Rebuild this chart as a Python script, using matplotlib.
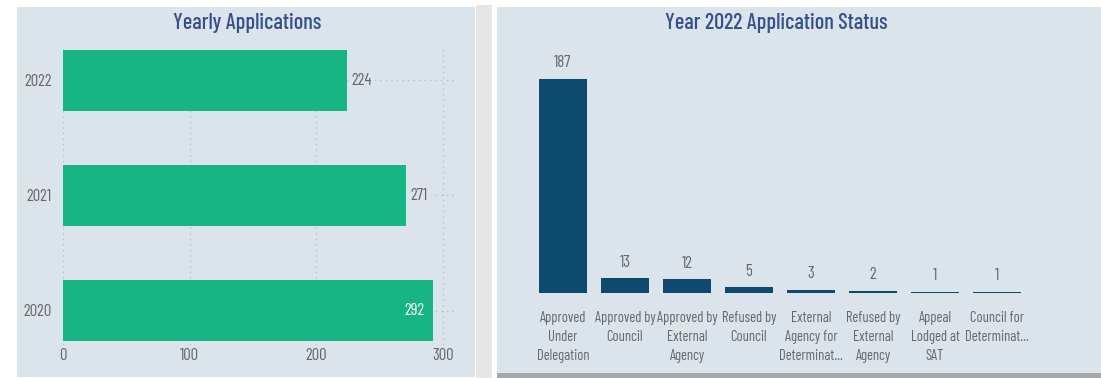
import matplotlib
matplotlib.use("Agg")
import matplotlib.pyplot as plt
from matplotlib.patches import Rectangle

years = ["2020", "2021", "2022"]
yearly_counts = [292, 271, 224]

status_labels = [
    "Approved\nUnder\nDelegation",
    "Approved by\nCouncil",
    "Approved by\nExternal\nAgency",
    "Refused by\nCouncil",
    "External\nAgency for\nDeterminat...",
    "Refused by\nExternal\nAgency",
    "Appeal\nLodged at\nSAT",
    "Council for\nDeterminat...",
]
status_counts = [187, 13, 12, 5, 3, 2, 1, 1]

W, H = 1101, 378
plt.rcParams["font.family"] = ["Barlow Condensed", "Liberation Sans Narrow",
                               "Liberation Sans", "DejaVu Sans"]

panel_bg = "#dbe4eb"
text_col = "#666666"
title_col = "#34508a"
green = "#17b584"
navy = "#0e4a6e"
grid_col = "#b9bfc2"

fig = plt.figure(figsize=(W / 100, H / 100), dpi=100)
fig.patch.set_facecolor("white")


def px_rect(x0, y0, x1, y1):
    # pixel box (top-left origin) -> figure fraction [l, b, w, h]
    return [x0 / W, 1 - y1 / H, (x1 - x0) / W, (y1 - y0) / H]


def panel(x0, y0, x1, y1, color):
    l, b, w, h = px_rect(x0, y0, x1, y1)
    fig.patches.append(Rectangle((l, b), w, h, transform=fig.transFigure,
                                 facecolor=color, edgecolor="none", zorder=-5))


# panels and shadow
panel(476, 5, 492, 378, "#e6e6e6")
panel(17, 7, 475, 377, panel_bg)
panel(497, 7, 1101, 373, panel_bg)
panel(497, 373, 1101, 378, "#a8a8a8")

# ---- left: yearly applications ----
ax1 = fig.add_axes(px_rect(63, 46, 457, 345))
ax1.set_facecolor("none")
ypos = list(range(len(years)))
ax1.barh(ypos, yearly_counts, height=0.53, color=green, zorder=2)
ax1.set_xlim(0, 311)
ax1.set_ylim(-0.3, 2.3)
ax1.set_yticks(ypos)
ax1.set_yticklabels(years)
ax1.set_xticks([0, 100, 200, 300])
ax1.tick_params(length=0, colors=text_col, labelsize=12)
ax1.tick_params(axis="y", pad=8)
ax1.tick_params(axis="x", pad=2)
for s in ax1.spines.values():
    s.set_visible(False)
for xv in [0, 100, 200, 300]:
    ax1.axvline(xv, color=grid_col, lw=1, ls=(0, (1, 3)), zorder=1)
for yv in ypos:
    ax1.axhline(yv, color=grid_col, lw=1, ls=(0, (1, 3)), zorder=1)
for yv, v in zip(ypos, yearly_counts):
    if v > 285:
        ax1.annotate(str(v), (v, yv), xytext=(-6, 0), textcoords="offset points",
                     ha="right", va="center", color="white", fontsize=12, zorder=3)
    else:
        ax1.annotate(str(v), (v, yv), xytext=(3, 0), textcoords="offset points",
                     ha="left", va="center", color=text_col, fontsize=12, zorder=3,
                     bbox=dict(boxstyle="square,pad=0.2", fc=panel_bg, ec="none"))
fig.text(247 / W, 1 - 23 / H, "Yearly Applications", ha="center", va="center",
         fontsize=16, color=title_col, fontweight="medium")

# ---- right: 2022 application status ----
ax2 = fig.add_axes(px_rect(532, 64, 1028, 293))
ax2.set_facecolor("none")
xpos = list(range(len(status_counts)))
ax2.bar(xpos, status_counts, width=0.77, color=navy)
ax2.set_ylim(0, 200)
ax2.set_xlim(-0.5, len(status_counts) - 0.5)
ax2.set_yticks([])
ax2.set_xticks(xpos)
ax2.set_xticklabels(status_labels, linespacing=1.45)
ax2.tick_params(length=0, colors=text_col, labelsize=10.5, pad=13)
for s in ax2.spines.values():
    s.set_visible(False)
for xv, v in zip(xpos, status_counts):
    ax2.annotate(str(v), (xv, v), xytext=(0, 11.5), textcoords="offset points",
                 ha="center", va="center", color=text_col, fontsize=12)
fig.text(776 / W, 1 - 23 / H, "Year 2022 Application Status", ha="center",
         va="center", fontsize=16, color=title_col, fontweight="medium")

fig.savefig("out.png", dpi=100, facecolor=fig.get_facecolor())
